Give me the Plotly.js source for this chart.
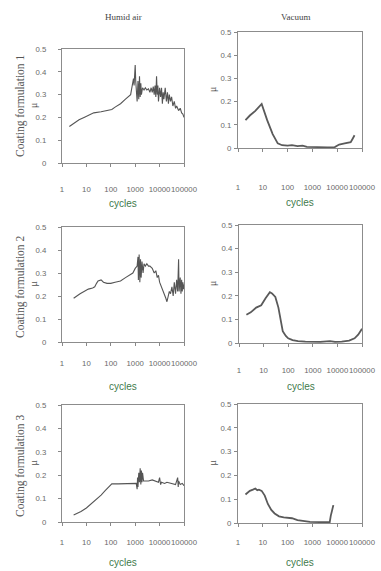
<!DOCTYPE html>
<html>
<head>
<meta charset="utf-8">
<script src="https://cdn.plot.ly/plotly-3.0.1.min.js"></script>
<style>
html,body{margin:0;padding:0;background:#fff;}
#chart{width:381px;height:571px;}
</style>
</head>
<body>
<div id="chart"></div>
<script>
// ---- data ----
var columnTitles = ["Humid air", "Vacuum"];
var rowTitles = ["Coating formulation 1", "Coating formulation 2", "Coating formulation 3"];
var xTickVals = [1, 10, 100, 1000, 10000, 100000];
var xTickText = ["1", "10", "100", "1000", "10000", "100000"];
var yTickVals = [0, 0.1, 0.2, 0.3, 0.4, 0.5];
var yTickText = ["0", "0.1", "0.2", "0.3", "0.4", "0.5"];
var xLabel = "cycles";
var yLabel = "μ";

// Humid air, formulation 1
var humid1Cycles = [2,3,5,8,12,20,40,70,100,110,150,250,400,550,650,700,800,850,900,950,1000,1050,1100,1200,1300,1400,1500,1600,1700,1800,2000,2300,2600,3000,3500,4000,4500,5000,5500,6000,6500,7000,7500,8000,8500,9000,10000,11000,12000,13000,14000,15000,17000,19000,21000,23000,25000,28000,31000,35000,40000,45000,50000,60000,70000,80000,90000,100000];
var humid1Mu = [0.16,0.175,0.19,0.20,0.21,0.22,0.225,0.23,0.232,0.235,0.245,0.26,0.28,0.295,0.30,0.32,0.36,0.37,0.34,0.40,0.43,0.36,0.30,0.27,0.36,0.28,0.38,0.29,0.35,0.30,0.33,0.32,0.33,0.32,0.325,0.31,0.33,0.31,0.335,0.30,0.34,0.29,0.38,0.30,0.34,0.27,0.33,0.29,0.33,0.26,0.31,0.28,0.33,0.27,0.31,0.26,0.30,0.27,0.29,0.25,0.27,0.24,0.25,0.23,0.24,0.22,0.215,0.20];

// Vacuum, formulation 1
var vac1Cycles = [2,3,5,9,15,25,40,60,100,150,250,400,600,1000,2000,4000,8000,12000,20000,35000,42000,50000];
var vac1Mu = [0.12,0.14,0.16,0.19,0.12,0.06,0.02,0.012,0.01,0.012,0.008,0.01,0.005,0.004,0.003,0.003,0.004,0.015,0.02,0.025,0.04,0.055];

// Humid air, formulation 2
var humid2Cycles = [3,4,5.5,8,12,18,22,26,30,40,50,70,100,150,250,400,600,800,1000,1200,1300,1350,1450,1550,1650,1750,1900,2100,2300,2600,3000,3500,4000,5000,6000,7000,8000,9000,10000,12000,14000,16000,18000,20000,22000,25000,28000,32000,36000,40000,45000,50000,55000,60000,63000,70000,75000,80000,85000,90000,95000,100000];
var humid2Mu = [0.19,0.20,0.21,0.22,0.23,0.235,0.24,0.255,0.265,0.27,0.26,0.255,0.255,0.26,0.265,0.28,0.29,0.30,0.32,0.33,0.37,0.27,0.38,0.26,0.36,0.28,0.35,0.30,0.34,0.33,0.34,0.33,0.33,0.32,0.30,0.31,0.28,0.29,0.26,0.24,0.22,0.20,0.19,0.175,0.20,0.22,0.21,0.24,0.20,0.26,0.21,0.27,0.22,0.36,0.22,0.28,0.21,0.27,0.22,0.26,0.23,0.25];

// Vacuum, formulation 2
var vac2Cycles = [2,3,5,8,12,18,22,30,40,50,60,80,100,150,250,500,1000,2000,5000,8000,15000,30000,50000,70000,100000];
var vac2Mu = [0.12,0.13,0.15,0.16,0.19,0.215,0.21,0.195,0.15,0.10,0.05,0.03,0.02,0.012,0.008,0.006,0.005,0.005,0.008,0.005,0.006,0.01,0.02,0.035,0.06];

// Humid air, formulation 3
var humid3Cycles = [3,4,6,10,15,25,40,60,90,110,200,400,800,1100,1200,1250,1300,1400,1500,1600,1700,1800,1900,2000,2200,2600,3500,5000,7000,9000,10000,11000,12000,16000,20000,30000,45000,55000,58000,60000,70000,85000,100000];
var humid3Mu = [0.03,0.035,0.045,0.06,0.075,0.095,0.115,0.135,0.155,0.163,0.163,0.165,0.165,0.165,0.14,0.19,0.15,0.21,0.17,0.23,0.16,0.22,0.17,0.21,0.175,0.175,0.175,0.18,0.175,0.17,0.19,0.16,0.17,0.165,0.17,0.165,0.16,0.19,0.15,0.175,0.16,0.165,0.155];

// Vacuum, formulation 3
var vac3Cycles = [2,3,4,5,6,7,9,12,16,22,30,45,70,100,150,250,400,800,2000,5000,5500,7000];
var vac3Mu = [0.12,0.135,0.14,0.145,0.138,0.14,0.135,0.115,0.08,0.055,0.04,0.028,0.024,0.022,0.02,0.012,0.008,0.005,0.004,0.004,0.03,0.075];

// ---- layout geometry (pixels in the 381x571 picture) ----
var W = 381, H = 571;
var panels = [
  {x:[62,184],  y:[49,163],  xs:15, ys:10, cycY:203, muX:33},
  {x:[238,362], y:[32,148],  xs:28, ys:1,  cycY:202, muX:212},
  {x:[62,184],  y:[227,342], xs:10, ys:10, cycY:386, muX:33},
  {x:[239,362], y:[225,343], xs:16, ys:1,  cycY:386, muX:212},
  {x:[62,184],  y:[405,522], xs:9,  ys:10, cycY:562, muX:33},
  {x:[238,362], y:[404,523], xs:8,  ys:1,  cycY:562, muX:212}
];
var series = [
  [humid1Cycles, humid1Mu, 'humid'], [vac1Cycles, vac1Mu, 'vac'],
  [humid2Cycles, humid2Mu, 'humid'], [vac2Cycles, vac2Mu, 'vac'],
  [humid3Cycles, humid3Mu, 'humid'], [vac3Cycles, vac3Mu, 'vac']
];

var tickFont = {family:"Liberation Sans, Arial, sans-serif", size:7.8, color:"#6a6a6a"};
var serifFont = {family:"Liberation Serif, Times New Roman, serif", size:9, color:"#444"};

var traces = [];
var layout = {
  width: W, height: H,
  margin: {l:0, r:0, t:0, b:0},
  paper_bgcolor: "#fff", plot_bgcolor: "#fff",
  showlegend: false,
  annotations: []
};

for (var i = 0; i < 6; i++) {
  var p = panels[i];
  var n = i === 0 ? '' : String(i + 1);
  traces.push({
    x: series[i][0], y: series[i][1],
    type: 'scatter', mode: 'lines',
    xaxis: 'x' + n, yaxis: 'y' + n,
    line: series[i][2] === 'vac' ? {color:'#5a5a5a', width:1.8} : {color:'#555', width:1.1},
    hoverinfo: 'skip'
  });
  layout['xaxis' + n] = {
    type: 'log', range: [0, 5],
    domain: [p.x[0] / W, p.x[1] / W],
    anchor: 'y' + n,
    tickvals: xTickVals, ticktext: xTickText, tickangle: 0,
    ticks: 'outside', ticklen: 3, tickcolor: '#888', tickwidth: 1,
    ticklabelstandoff: p.xs,
    tickfont: tickFont,
    showline: true, linecolor: '#8c8c8c', linewidth: 1.2, mirror: true,
    showgrid: false, zeroline: false, fixedrange: true
  };
  layout['yaxis' + n] = {
    range: [0, 0.5],
    domain: [1 - p.y[1] / H, 1 - p.y[0] / H],
    anchor: 'x' + n,
    tickvals: yTickVals, ticktext: yTickText,
    ticks: 'outside', ticklen: 3, tickcolor: '#888', tickwidth: 1,
    ticklabelstandoff: p.ys,
    tickfont: tickFont,
    showline: true, linecolor: '#8c8c8c', linewidth: 1.2, mirror: true,
    showgrid: false, zeroline: false, fixedrange: true
  };
  // x-axis label "cycles"
  layout.annotations.push({
    text: xLabel, xref: 'paper', yref: 'paper',
    x: ((p.x[0] + p.x[1]) / 2) / W, y: 1 - p.cycY / H,
    xanchor: 'center', yanchor: 'middle', showarrow: false,
    font: {family:"Liberation Sans, Arial, sans-serif", size:10, color:'#3f7a4c'}
  });
  // y-axis label "μ"
  layout.annotations.push({
    text: yLabel, xref: 'paper', yref: 'paper',
    x: p.muX / W, y: 1 - ((p.y[0] + p.y[1]) / 2) / H,
    xanchor: 'center', yanchor: 'middle', showarrow: false, textangle: -90,
    font: {family:"Liberation Serif, Times New Roman, serif", size:10, color:'#555'}
  });
}

// column titles
layout.annotations.push({text: columnTitles[0], xref:'paper', yref:'paper', x:123/W, y:1-17/H,
  xanchor:'center', yanchor:'middle', showarrow:false, font:serifFont});
layout.annotations.push({text: columnTitles[1], xref:'paper', yref:'paper', x:296/W, y:1-17/H,
  xanchor:'center', yanchor:'middle', showarrow:false, font:serifFont});

// row titles
var rowCenters = [106, 287, 466];
for (var r = 0; r < 3; r++) {
  layout.annotations.push({text: rowTitles[r], xref:'paper', yref:'paper', x:20/W, y:1-rowCenters[r]/H,
    xanchor:'center', yanchor:'middle', showarrow:false, textangle:-90,
    font:{family:"Liberation Serif, Times New Roman, serif", size:11.5, color:'#555'}});
}

Plotly.newPlot('chart', traces, layout, {staticPlot:true, displayModeBar:false});
</script>
</body>
</html>
